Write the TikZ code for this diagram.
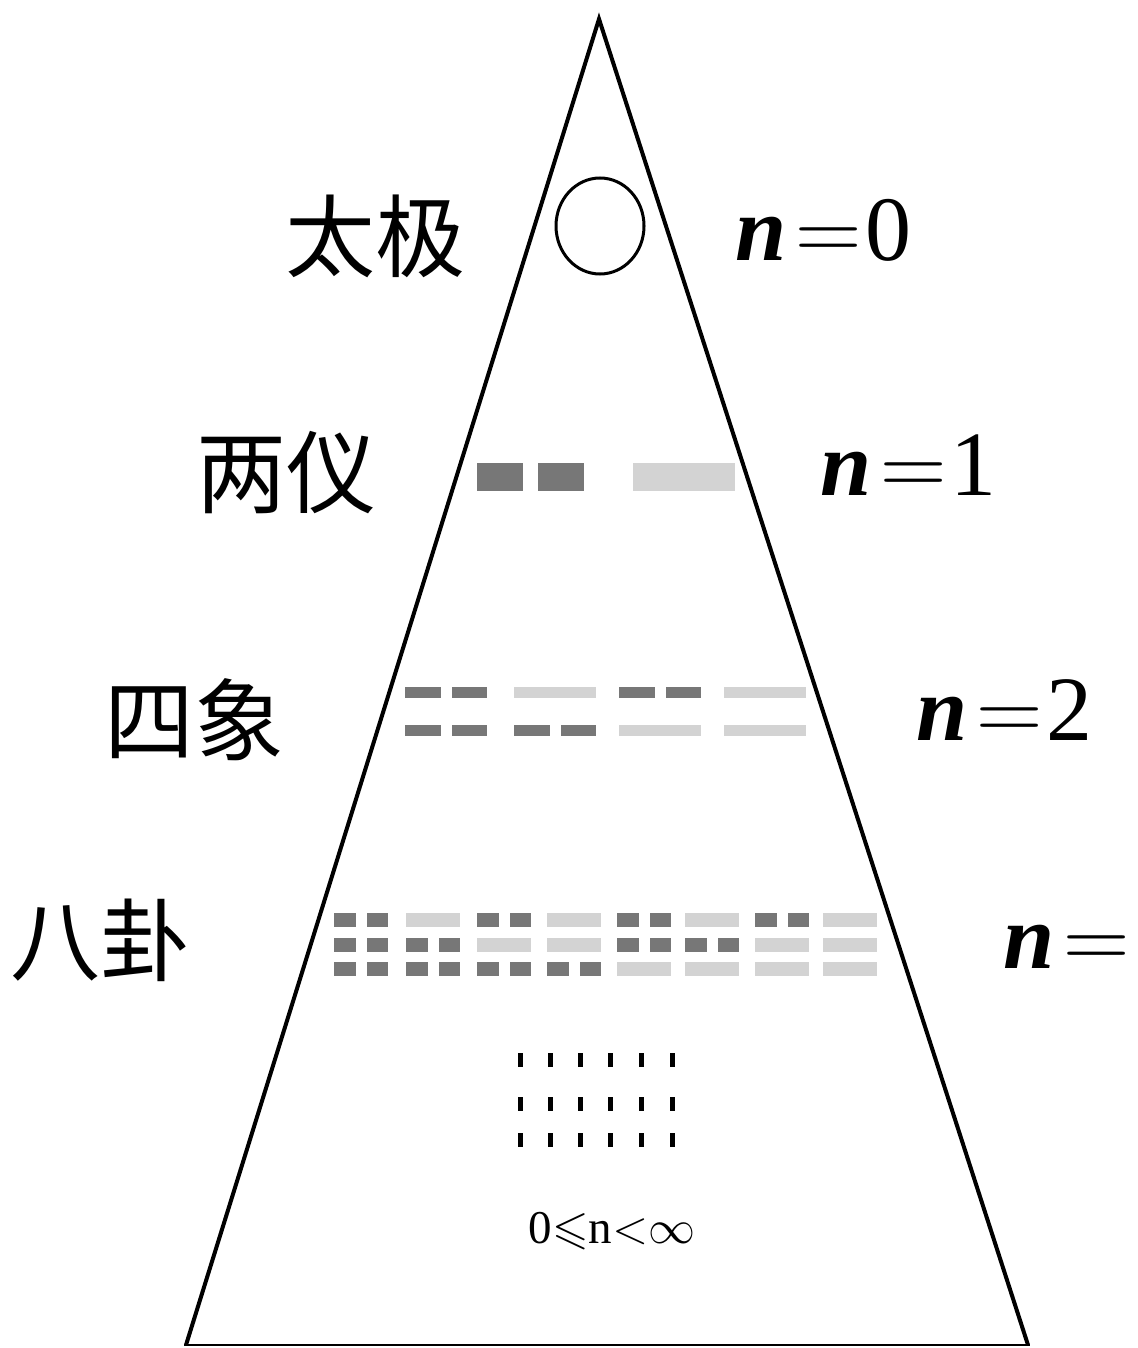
\RequirePackage{fix-cm}
\documentclass[tikz,border=0pt]{standalone}
\usepackage{amssymb}
\usepackage{fontspec}
\setmainfont{Liberation Serif}
\newfontfamily\cjk{Noto Sans CJK SC}
\definecolor{yincol}{HTML}{777777}
\definecolor{yangcol}{HTML}{D3D3D3}
\newcommand\mkyin[5]{%
  \fill[yincol] (#1,#2) rectangle ++({(#3-#5)/2},#4);
  \fill[yincol] ({#1+(#3+#5)/2},#2) rectangle ++({(#3-#5)/2},#4);}
\newcommand\mkyang[4]{\fill[yangcol] (#1,#2) rectangle ++(#3,#4);}
\tikzset{
  cjklabel/.style={inner sep=0pt, font=\cjk\fontsize{90}{90}\selectfont},
  nlabel/.style={inner sep=0pt, anchor=base west, font=\fontsize{92}{92}\selectfont},
  dotmark/.style={fill=black}
}
\begin{document}
\begin{tikzpicture}[x=1pt,y=-1pt]
\useasboundingbox (0,0) rectangle (1137,1348);
% pyramid
\draw[line width=4pt, line join=miter] (186,1345) -- (599,19) -- (1028,1345);
\draw[line width=2.5pt] (184,1345) -- (1030,1345);
% taiji
\draw[line width=3pt] (600,226) ellipse [x radius=44, y radius=48];
% liangyi
\mkyin{477}{463}{107}{28}{15}
\mkyang{633}{463}{102}{28}
% sixiang
\foreach \gx [count=\i from 0] in {405,514,619,724}{
  \ifodd\i \mkyang{\gx}{687}{82}{11}\else\mkyin{\gx}{687}{82}{11}{11}\fi
  \ifnum\i>1 \mkyang{\gx}{725}{82}{11}\else\mkyin{\gx}{725}{82}{11}{11}\fi
}
% bagua
\foreach \gx [count=\i from 0] in {334,406,477,547,617,685,755,823}{
  \pgfmathtruncatemacro\rb{\i/2}
  \ifodd\i \mkyang{\gx}{913}{54}{14}\else\mkyin{\gx}{913}{54}{14}{11}\fi
  \ifodd\rb \mkyang{\gx}{938}{54}{14}\else\mkyin{\gx}{938}{54}{14}{11}\fi
  \ifnum\i>3 \mkyang{\gx}{962}{54}{14}\else\mkyin{\gx}{962}{54}{14}{11}\fi
}
% dots
\foreach \dy in {1053,1097,1133}{
  \foreach \dx in {518,548,578,608,638.5,669.5}{
    \fill[dotmark] (\dx,\dy) rectangle ++(5,14);
  }
}
% labels
\node[cjklabel] (taiji) at (375,236) {太极};
\node[cjklabel] (liangyi) at (286,473) {两仪};
\node[cjklabel] (sixiang) at (194,720) {四象};
\node[cjklabel] (bagua) at (100,940) {八卦};
\node[nlabel] (n0) at (735,260) {{\bfseries\itshape n}\kern9pt$=$\kern4pt0};
\node[nlabel] (n1) at (820,495) {{\bfseries\itshape n}\kern9pt$=$\kern4pt1};
\node[nlabel] (n2) at (916,740) {{\bfseries\itshape n}\kern9pt$=$\kern4pt2};
\node[nlabel] (n3) at (1003,968) {{\bfseries\itshape n}\kern9pt$=$};
\node[inner sep=0pt, anchor=base, font=\fontsize{47}{47}\selectfont] (range) at (612,1243) {0$\mathord{\leqslant}$n$\mathord{<}\mathord{\infty}$};
\end{tikzpicture}
\end{document}
